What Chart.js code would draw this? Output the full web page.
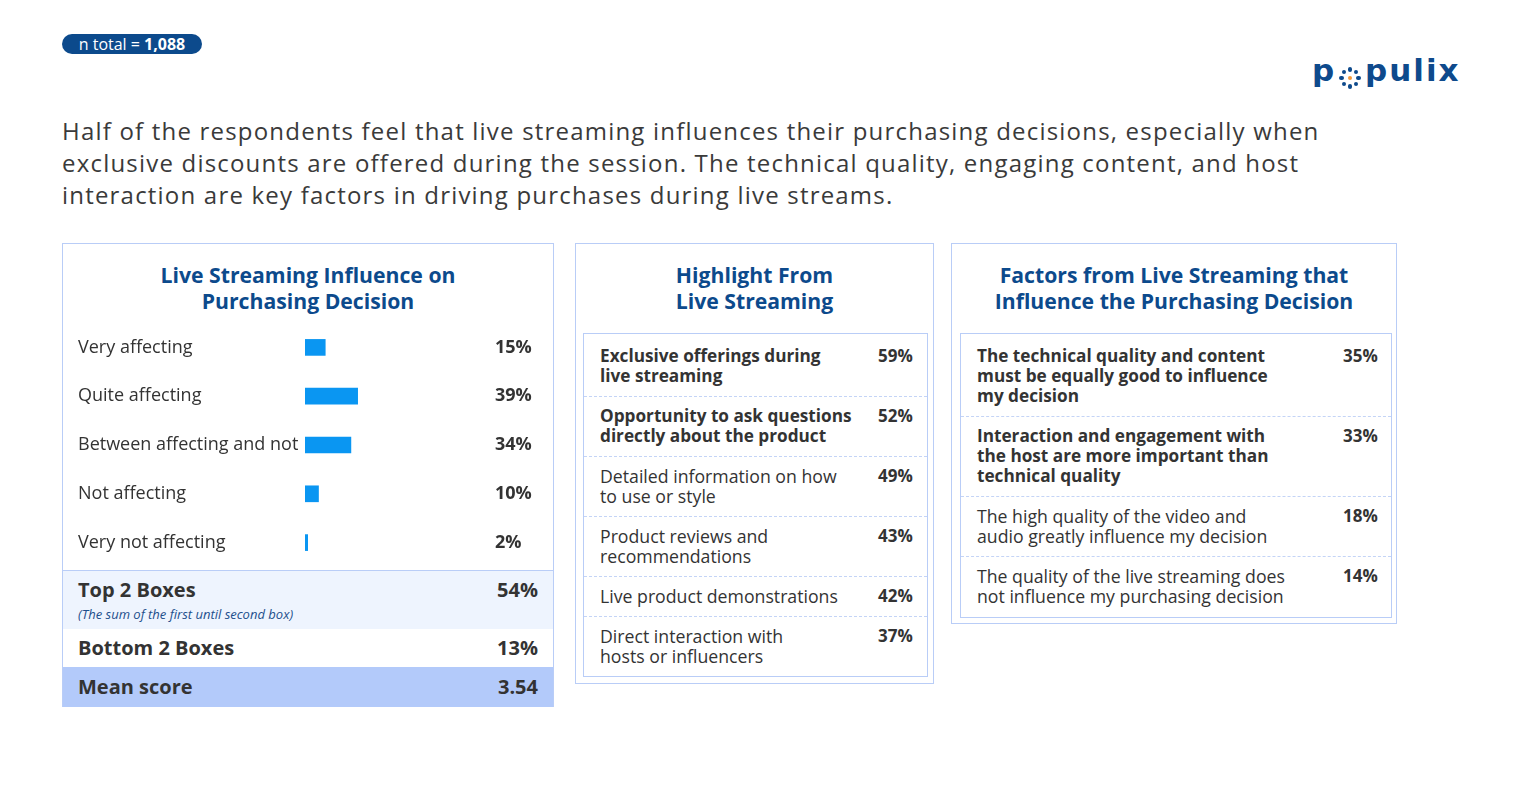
<!DOCTYPE html>
<html>
<head>
<meta charset="utf-8">
<title>Live Streaming Influence on Purchasing Decision</title>
<script src="https://cdn.jsdelivr.net/npm/chart.js@4.4.1/dist/chart.umd.min.js"></script>
<style>
    body { margin: 0; background: #fff; font-family: "Open Sans", sans-serif; color: #333; }
    .page { position: relative; width: 1522px; height: 794px; overflow: hidden; }
    .badge {
        position: absolute; left: 62px; top: 34px; width: 140px; height: 20px;
        background: #0c4a8c; color: #fff; border-radius: 10px;
        font-size: 16px; line-height: 20px; text-align: center;
    }
    .logo { position: absolute; left: 1311px; top: 50px; width: 160px; height: 50px; color: #0e4a8c;
            font-family: "DejaVu Sans", sans-serif; font-size: 31px; font-weight: 700; letter-spacing: 2px; }
    .logo span { position: absolute; top: 0; line-height: 40px; }
    .logo .dots { position: absolute; left: 27px; top: 16px; width: 24px; height: 24px; }
    .logo .dots i { position: absolute; width: 4.5px; height: 4.5px; border-radius: 50%; background: #0e4a8c; }
    .lead {
        position: absolute; left: 62px; top: 115px; width: 1420px;
        font-size: 24px; line-height: 32px; letter-spacing: 1.2px; color: #3a3a3a;
    }
    .panel { position: absolute; border: 1px solid #b9cdf7; box-sizing: border-box; background: #fff; }
    .panel h2 {
        margin: 0; position: absolute; left: 0; right: 0; top: 18px;
        text-align: center; font-size: 21.2px; line-height: 26px; font-weight: 700; color: #0c4a8c;
    }
    .inner { position: absolute; border: 1px solid #b9cdf7; box-sizing: border-box; padding-top: 2px; }
    .row { position: relative; padding: 10px 0 10px 16px; font-size: 17.7px; line-height: 20px; white-space: pre-line; }
    .row + .row { border-top: 1px dashed #c4d4f6; padding-top: 9px; }
    .row.bold { font-weight: 700; font-size: 17.2px; }
    .row .val { position: absolute; top: 10px; font-weight: 700; font-size: 17px; }
    .row + .row .val { top: 9px; }
    #leftPanel .sum { position: absolute; left: 0; right: 0; box-sizing: border-box; padding-left: 15px; font-weight: 700; font-size: 20px; }
    #leftPanel .sum .val { position: absolute; right: 15px; }
</style>
</head>
<body>
<div class="page">
    <div class="badge">n total = <b>1,088</b></div>
    <div class="logo"><span style="left:1px">p</span><div class="dots" id="logoDots"></div><span style="left:54px">pulix</span></div>

    <div class="lead">Half of the respondents feel that live streaming influences their purchasing decisions, especially when<br>exclusive discounts are offered during the session. The technical quality, engaging content, and host<br>interaction are key factors in driving purchases during live streams.</div>

    <div class="panel" id="leftPanel" style="left:62px; top:243px; width:492px; height:464px;">
        <h2>Live Streaming Influence on<br>Purchasing Decision</h2>
        <div style="position:absolute; left:15px; top:79px; width:470px; height:244px;">
            <canvas id="influenceChart"></canvas>
        </div>
        <div id="summaryRows"></div>
    </div>

    <div class="panel" id="midPanel" style="left:575px; top:243px; width:359px; height:441px;">
        <h2>Highlight From<br>Live Streaming</h2>
        <div class="inner" id="highlightList" style="left:7px; top:89px; width:345px; height:344px;"></div>
    </div>

    <div class="panel" id="rightPanel" style="left:951px; top:243px; width:446px; height:381px;">
        <h2>Factors from Live Streaming that<br>Influence the Purchasing Decision</h2>
        <div class="inner" id="factorList" style="left:8px; top:89px; width:432px; height:285px;"></div>
    </div>
</div>

<script>
// Live streaming influence (% of respondents)
const influenceLabels = ['Very affecting', 'Quite affecting', 'Between affecting and not', 'Not affecting', 'Very not affecting'];
const influenceValues = [15, 39, 34, 10, 2];

const summaryLabels = ['Top 2 Boxes', 'Bottom 2 Boxes', 'Mean score'];
const summaryValues = ['54%', '13%', '3.54'];
const summaryNote = '(The sum of the first until second box)';

// Highlights from live streaming
const highlightLabels = [
    'Exclusive offerings during\nlive streaming',
    'Opportunity to ask questions\ndirectly about the product',
    'Detailed information on how\nto use or style',
    'Product reviews and\nrecommendations',
    'Live product demonstrations',
    'Direct interaction with\nhosts or influencers'
];
const highlightValues = [59, 52, 49, 43, 42, 37];
const highlightBold = [true, true, false, false, false, false];

// Factors that influence the purchasing decision
const factorLabels = [
    'The technical quality and content\nmust be equally good to influence\nmy decision',
    'Interaction and engagement with\nthe host are more important than\ntechnical quality',
    'The high quality of the video and\naudio greatly influence my decision',
    'The quality of the live streaming does\nnot influence my purchasing decision'
];
const factorValues = [35, 33, 18, 14];
const factorBold = [true, true, false, false];

const FONT = '"Open Sans", sans-serif';

document.addEventListener('DOMContentLoaded', () => {
    drawLogo();
    renderInfluenceChart();
    renderSummary();
    renderList('highlightList', highlightLabels, highlightValues, highlightBold, 294);
    renderList('factorList', factorLabels, factorValues, factorBold, 382);
});

function drawLogo() {
    const box = document.getElementById('logoDots');
    // ring of dots with an orange centre
    for (let k = 0; k < 9; k++) {
        const dot = document.createElement('i');
        let cx = 12, cy = 12;
        if (k < 8) {
            const a = k * Math.PI / 4;
            cx += Math.cos(a) * 8.3;
            cy += Math.sin(a) * 8.3;
        } else {
            dot.style.background = '#f39a3c';
        }
        dot.style.left = (cx - 2.25) + 'px';
        dot.style.top = (cy - 2.25) + 'px';
        box.appendChild(dot);
    }
}

function renderInfluenceChart() {
    const valueLabels = {
        id: 'valueLabels',
        afterDatasetsDraw(chart) {
            const { ctx, scales } = chart;
            ctx.save();
            ctx.font = '700 18px ' + FONT;
            ctx.fillStyle = '#333';
            ctx.textBaseline = 'middle';
            ctx.textAlign = 'left';
            influenceValues.forEach((v, i) => {
                ctx.fillText(v + '%', 417, scales.y.getPixelForValue(i));
            });
            ctx.restore();
        }
    };

    new Chart(document.getElementById('influenceChart'), {
        type: 'bar',
        data: {
            labels: influenceLabels,
            datasets: [{
                data: influenceValues,
                backgroundColor: '#0a96f2',
                barThickness: 16
            }]
        },
        options: {
            indexAxis: 'y',
            responsive: true,
            maintainAspectRatio: false,
            animation: false,
            layout: { padding: { right: 108 } },
            plugins: { legend: { display: false }, tooltip: { enabled: false } },
            scales: {
                x: { display: false, min: 0, max: 100 },
                y: {
                    grid: { display: false },
                    border: { display: false },
                    afterFit: (scale) => {
                        scale.width = 227;
                        scale.paddingTop = 0;
                        scale.paddingBottom = 0;
                    },
                    ticks: { crossAlign: 'far', color: '#333', font: { family: FONT, size: 18 } }
                }
            }
        },
        plugins: [valueLabels]
    });
}

function renderSummary() {
    const wrap = document.getElementById('summaryRows');
    const tops = [326, 385, 423];
    const heights = [59, 38, 40];
    const backgrounds = ['#eef4fe', '#fff', '#b3cafa'];
    summaryLabels.forEach((label, i) => {
        const row = document.createElement('div');
        row.className = 'sum';
        row.style.top = tops[i] + 'px';
        row.style.height = heights[i] + 'px';
        row.style.background = backgrounds[i];
        row.style.lineHeight = i === 0 ? '38px' : heights[i] + 'px';
        if (i === 0) row.style.borderTop = '1px solid #b9cdf7';
        row.innerHTML = `${label}<span class="val">${summaryValues[i]}</span>`;
        if (i === 0) {
            row.innerHTML += `<div style="position:absolute; top:35px; font-size:13px; line-height:16px; font-weight:400; font-style:italic; color:#1d4f8c;">${summaryNote}</div>`;
        }
        wrap.appendChild(row);
    });
}

function renderList(id, labels, values, bold, valueX) {
    const list = document.getElementById(id);
    labels.forEach((label, i) => {
        const row = document.createElement('div');
        row.className = 'row' + (bold[i] ? ' bold' : '');
        row.textContent = label;
        const val = document.createElement('span');
        val.className = 'val';
        val.style.left = valueX + 'px';
        val.textContent = values[i] + '%';
        row.appendChild(val);
        list.appendChild(row);
    });
}
</script>
</body>
</html>
